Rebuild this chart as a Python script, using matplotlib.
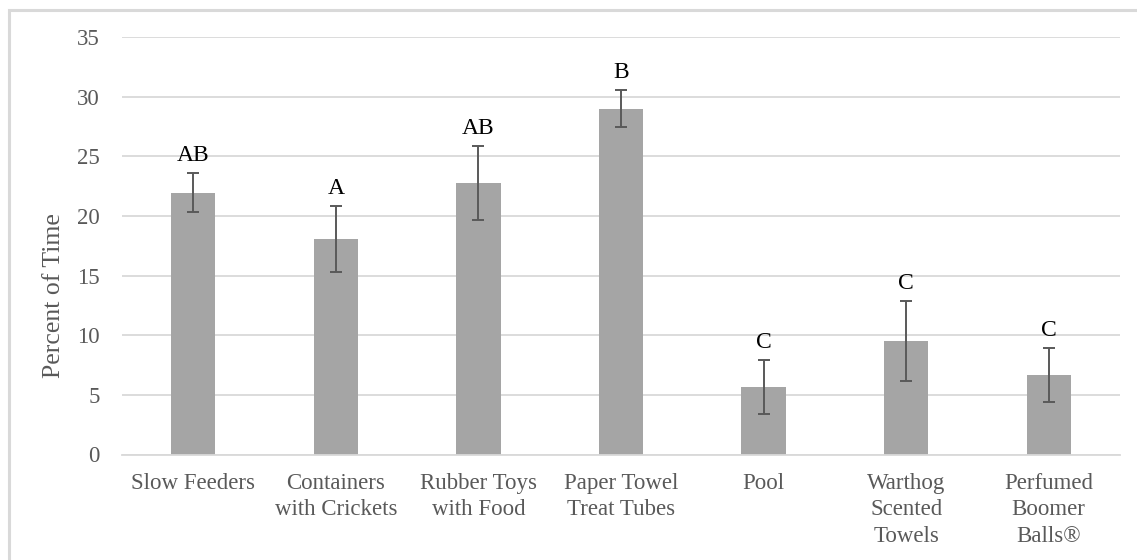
import matplotlib
matplotlib.use("Agg")
import matplotlib.pyplot as plt
from matplotlib.patches import Rectangle
import numpy as np

categories = ["Slow Feeders", "Containers\nwith Crickets", "Rubber Toys\nwith Food",
              "Paper Towel\nTreat Tubes", "Pool", "Warthog\nScented\nTowels",
              "Perfumed\nBoomer\nBalls®"]
values = [21.96, 18.07, 22.78, 29.02, 5.64, 9.54, 6.67]
errors = [1.65, 2.8, 3.1, 1.54, 2.27, 3.35, 2.27]
letters = ["AB", "A", "AB", "B", "C", "C", "C"]
yticks = [0, 5, 10, 15, 20, 25, 30, 35]

plt.rcParams['font.family'] = ['Liberation Serif', 'DejaVu Serif']

fig = plt.figure(figsize=(11.37, 5.60), dpi=100)
ax = fig.add_axes([122/1137, 1 - 454.5/560, (1120-122)/1137, (454.5-37.3)/560])

# outer chart border
fig.patches.append(Rectangle((8.5/1137, -0.05), 1.2, 1 - 10/560 + 0.05,
                             transform=fig.transFigure, fill=False,
                             edgecolor='#D9D9D9', linewidth=2.2))

x = np.arange(len(categories))
ax.bar(x, values, width=0.31, color='#A5A5A5', zorder=2)
ax.errorbar(x, values, yerr=errors, fmt='none', ecolor='#595959',
            elinewidth=1.4, capsize=4.5, capthick=1.4, zorder=3)
for xi, v, e, lab in zip(x, values, errors, letters):
    ax.annotate(lab, (xi, v + e), xytext=(0, 5), textcoords='offset points',
                ha='center', va='bottom', fontsize=17, color='black')

ax.set_xlim(-0.5, len(categories) - 0.5)
ax.set_ylim(0, 35)
ax.set_yticks(yticks)
ax.yaxis.grid(True, color='#D9D9D9', linewidth=1.3, zorder=0)
ax.set_axisbelow(True)
for s in ['top', 'right', 'left']:
    ax.spines[s].set_visible(False)
ax.spines['bottom'].set_color('#D9D9D9')
ax.spines['bottom'].set_linewidth(1.3)
ax.set_xticks(x)
ax.set_xticklabels(categories, fontsize=16.5, color='#595959', linespacing=1.35)
ax.tick_params(axis='y', length=0, pad=16, labelsize=16.5, labelcolor='#595959')
ax.tick_params(axis='x', length=0, pad=13)
ax.set_ylabel("Percent of Time", fontsize=18.5, color='#595959')
ax.yaxis.set_label_coords(-0.057, 0.38)

fig.savefig("out.png", dpi=100)
